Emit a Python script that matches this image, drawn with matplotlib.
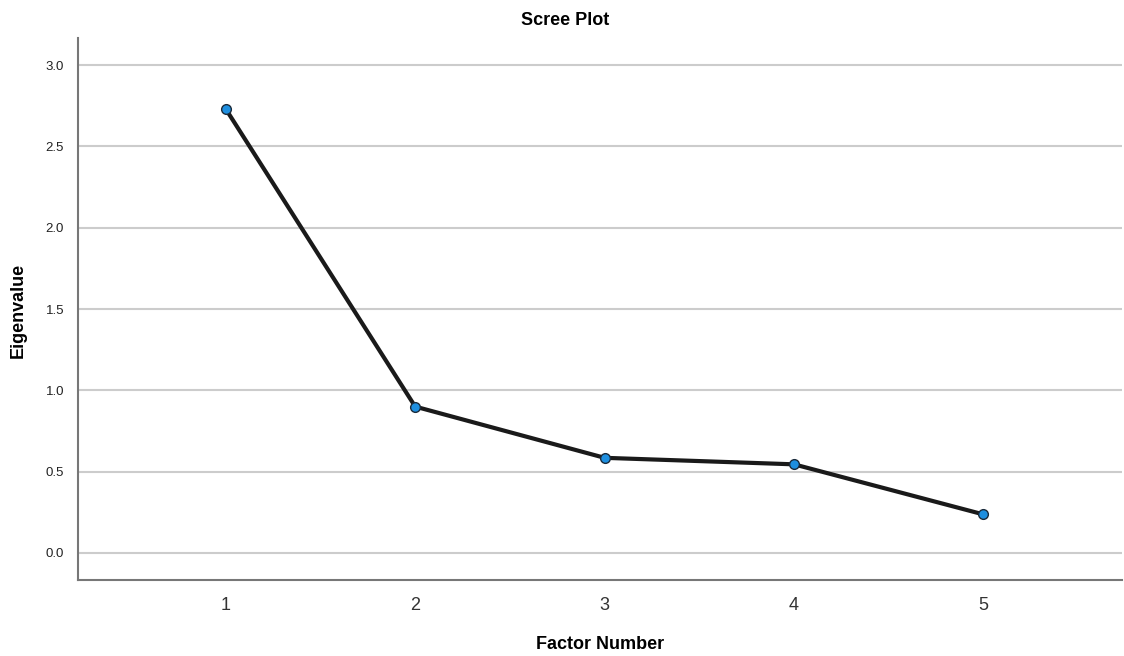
import numpy as np
import matplotlib.pyplot as plt

plt.rcParams['font.family'] = ['Liberation Sans', 'DejaVu Sans']

factors = [1, 2, 3, 4, 5]
eigenvalues = [2.73, 0.90, 0.585, 0.545, 0.237]
y_ticks = [0.0, 0.5, 1.0, 1.5, 2.0, 2.5, 3.0]

fig = plt.figure(figsize=(11.24, 6.56), dpi=100)
ax = fig.add_axes([0.0694, 0.1159, 0.9286, 0.8261])

ax.plot(factors, eigenvalues, color='#1a1a1a', lw=3, zorder=3,
        marker='o', ms=7, mfc='#1e8fe0', mec='#1a2a3a', mew=1)

ax.set_xlim(0.22, 5.73)
ax.set_ylim(-0.166, 3.166)
ax.set_xticks(factors)
ax.set_yticks(y_ticks)
ax.set_yticklabels([f'{v:.1f}' for v in y_ticks])
ax.tick_params(axis='y', length=0, labelsize=9.5, colors='#222222', pad=10)
ax.tick_params(axis='x', length=0, labelsize=13, colors='#333333', pad=12)

ax.grid(axis='y', color='#cccccc', lw=1.5)
ax.set_axisbelow(True)
for s in ['top', 'right']:
    ax.spines[s].set_visible(False)
for s in ['left', 'bottom']:
    ax.spines[s].set_color('#777777')
    ax.spines[s].set_linewidth(1.5)

fig.text(0.016, 0.527, 'Eigenvalue', rotation=90, ha='center', va='center',
         fontsize=13, fontweight='bold')
fig.text(0.534, 0.017, 'Factor Number', ha='center', va='center',
         fontsize=13, fontweight='bold')
fig.text(0.503, 0.968, 'Scree Plot', ha='center', va='center',
         fontsize=13, fontweight='bold')

fig.savefig('out.png', dpi=100)
